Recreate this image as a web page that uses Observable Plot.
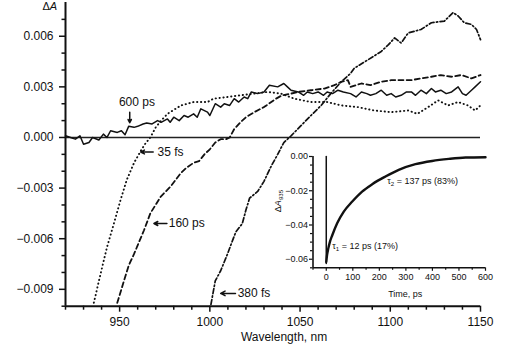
<!DOCTYPE html>
<html><head><meta charset="utf-8">
<script src="https://cdn.jsdelivr.net/npm/d3@7"></script>
<script src="https://cdn.jsdelivr.net/npm/@observablehq/plot@0.6"></script>
<style>
body{margin:0;background:#fff;}
#wrap{position:relative;width:517px;height:345px;overflow:hidden;background:#fff;}
#inset{position:absolute;left:260px;top:140px;}
</style></head><body><div id="wrap"><div id="main"></div><div id="inset"></div></div>
<script>
// ---------- main chart data ----------
const xDomain = [920, 1150];
const yDomain = [-0.010, 0.008];
const xTicks = [950, 1000, 1050, 1100, 1150];
const xMinorTicks = [920, 930, 940, 960, 970, 980, 990, 1010, 1020, 1030, 1040, 1060, 1070, 1080, 1090, 1110, 1120, 1130, 1140];
const yTicks = [-0.009, -0.006, -0.003, 0, 0.003, 0.006];
const yMinorTicks = [-0.010, -0.008, -0.007, -0.005, -0.004, -0.002, -0.001, 0.001, 0.002, 0.004, 0.005, 0.007];

// 600 ps (solid)
const w600 = [920, 922.8, 925.5, 928, 930, 933, 935, 938.5, 941, 943, 945, 948.7, 951, 953, 955, 958, 960, 963, 965, 968, 971, 973, 976.5, 978, 980, 983, 985.7, 988, 991, 993, 995, 998.7, 1000, 1003, 1006, 1008, 1011, 1013.5, 1016, 1019, 1021, 1023, 1026.5, 1030, 1033, 1037.6, 1041, 1043, 1045, 1049, 1052, 1054, 1057, 1060, 1063, 1065, 1068, 1071, 1074, 1078, 1081, 1084, 1087, 1089, 1092, 1095, 1098, 1100.5, 1103, 1106, 1109, 1111.7, 1114, 1117, 1120, 1122.8, 1125, 1128, 1131, 1134, 1137.6, 1140, 1142, 1145, 1147, 1150];
const a600 = [0.0001, 0.0, -0.0001, 0.0001, -0.0004, -0.0003, 0.0, -0.00015, 0.0002, 0.0, 0.0004, 0.0003, 0.0004, 0.00016, 0.00066, 0.0006, 0.00066, 0.0008, 0.00086, 0.0008, 0.001, 0.0009, 0.0011, 0.0009, 0.0012, 0.001, 0.0013, 0.0012, 0.0014, 0.0012, 0.0017, 0.0015, 0.0013, 0.002, 0.0018, 0.002, 0.0019, 0.0023, 0.0021, 0.0024, 0.0023, 0.0027, 0.0026, 0.0027, 0.0031, 0.003, 0.0032, 0.003, 0.0028, 0.0027, 0.0025, 0.0027, 0.0026, 0.0027, 0.0025, 0.0027, 0.0026, 0.0028, 0.0027, 0.0026, 0.0024, 0.0027, 0.0026, 0.0025, 0.0026, 0.0028, 0.0025, 0.0026, 0.0024, 0.0025, 0.0027, 0.0027, 0.0025, 0.0028, 0.0026, 0.0029, 0.0027, 0.0028, 0.0026, 0.0027, 0.0030, 0.0026, 0.0025, 0.0028, 0.003, 0.0033];

// 35 fs (dotted)
const w35 = [935.7, 939.4, 943, 946.8, 950.5, 954, 958, 961.7, 964, 967, 970, 973, 976.5, 984, 991, 998.7, 1002, 1010, 1017, 1024.6, 1032, 1039.4, 1046.8, 1056, 1065, 1072.8, 1082, 1091, 1100.5, 1110, 1115, 1121, 1126.5, 1132, 1137.6, 1143, 1147, 1150];
const a35 = [-0.0098, -0.0081, -0.0065, -0.0051, -0.0037, -0.0025, -0.0015, -0.0008, -0.0004, 0.0, 0.0006, 0.001, 0.0014, 0.0019, 0.0021, 0.0021, 0.0023, 0.0024, 0.0025, 0.0026, 0.0027, 0.0026, 0.0023, 0.0021, 0.0021, 0.0019, 0.0018, 0.0016, 0.0015, 0.0016, 0.0014, 0.0018, 0.0022, 0.0019, 0.0021, 0.0019, 0.0016, 0.0019];

// 160 ps (dashed)
const w160 = [948.7, 952.4, 955, 958, 963.5, 967, 972.8, 978.3, 984, 987, 991, 994, 997, 1000, 1003, 1006, 1009, 1011, 1013.5, 1017, 1020, 1024.6, 1030, 1036.7, 1040, 1045, 1049, 1056, 1063.5, 1069, 1072.8, 1076.5, 1078, 1084, 1089, 1095, 1100.5, 1106, 1111.7, 1117, 1122.8, 1128, 1134, 1139.4, 1145, 1150];
const a160 = [-0.0098, -0.0085, -0.0076, -0.0069, -0.0055, -0.0045, -0.0035, -0.0029, -0.0021, -0.0018, -0.0015, -0.0014, -0.001, -0.0007, -0.0003, -0.0001, -0.0001, 0.0, 0.0005, 0.0009, 0.0012, 0.0015, 0.0018, 0.0023, 0.0025, 0.0026, 0.0027, 0.0028, 0.0029, 0.0031, 0.0033, 0.0034, 0.0030, 0.0032, 0.0031, 0.0033, 0.0034, 0.0034, 0.0034, 0.0035, 0.0036, 0.0037, 0.0036, 0.0037, 0.0035, 0.0037];

// 380 fs (dash-dot)
const w380 = [1000.6, 1003, 1006, 1009.8, 1012.6, 1014.4, 1018, 1020, 1022, 1026.5, 1030, 1034, 1037.6, 1041, 1045, 1048.7, 1050.5, 1056, 1061.7, 1067, 1072.8, 1078, 1080, 1087.6, 1095, 1099, 1102.4, 1106, 1110, 1117, 1122.8, 1130, 1134.8, 1137.6, 1141, 1145, 1147.8, 1150];
const a380 = [-0.0099, -0.0085, -0.0079, -0.0069, -0.0061, -0.0056, -0.0051, -0.0043, -0.0036, -0.0032, -0.0026, -0.0017, -0.001, -0.0003, 0.0001, 0.0005, 0.0007, 0.0013, 0.0019, 0.0026, 0.0033, 0.0038, 0.0041, 0.0046, 0.0051, 0.0055, 0.0059, 0.0056, 0.0062, 0.0064, 0.0068, 0.0069, 0.0074, 0.0072, 0.0068, 0.0067, 0.0064, 0.0058];

// annotations (data coordinates; text starts at the given x)
const annLabels = ["600 ps", "35 fs", "160 ps", "380 fs"];
const annLabelX = [949.6, 971, 977.2, 1015.4];
const annLabelY = [0.00208, -0.00086, -0.0051, -0.00924];
const arrowX1 = [955.6, 968.6, 976.2, 1014.2];
const arrowY1 = [0.00150, -0.00086, -0.0051, -0.00924];
const arrowX2 = [955.6, 961.7, 969.0, 1006.0];
const arrowY2 = [0.00088, -0.00086, -0.0051, -0.00924];

// ---------- inset data ----------
const tDomain = [-50, 600];
const kDomain = [-0.065, 0];
const tTicks = [0, 100, 200, 300, 400, 500, 600];
const tMinorTicks = [-50, 50, 150, 250, 350, 450, 550];
const kTicks = [0, -0.02, -0.04, -0.06];
const kMinorTicks = [-0.005, -0.01, -0.015, -0.025, -0.03, -0.035, -0.045, -0.05, -0.055, -0.065];
const tRise = [0, 0];
const kRise = [-0.0625, 0];
const tDecay = [0, 3, 7.5, 14, 22.6, 41, 66, 98, 135, 173, 223, 273, 336, 399, 462, 525, 600];
const kDecay = [-0.0616, -0.0575, -0.0538, -0.0497, -0.046, -0.039, -0.0322, -0.0263, -0.0205, -0.0162, -0.0117, -0.0078, -0.0045, -0.0026, -0.0014, -0.0006, -0.0004];
const tauLabels = ["τ1 = 12 ps (17%)", "τ2 = 137 ps (83%)"];
const tauT = [22.6, 230];
const tauK = [-0.0526, -0.0146];

// ---------- build ----------
const FONT = '"Liberation Sans", Arial, Helvetica, sans-serif';
const zip = (xs, ys) => xs.map((x, i) => ({x, y: ys[i]}));
const ann = annLabels.map((t, i) => ({t, x: annLabelX[i], y: annLabelY[i],
  x1: arrowX1[i], y1: arrowY1[i], x2: arrowX2[i], y2: arrowY2[i]}));

const main = Plot.plot({
  width: 517, height: 345,
  marginLeft: 65, marginRight: 37, marginTop: 2, marginBottom: 39.3,
  style: {fontFamily: FONT, fontSize: "12px", background: "white", color: "#111", overflow: "visible"},
  x: {domain: xDomain},
  y: {domain: yDomain},
  marks: [
    Plot.ruleY([0], {strokeWidth: 1.6, stroke: "#222"}),
    Plot.axisX({ticks: xMinorTicks, tickSize: 4, tickFormat: () => "", strokeWidth: 1.5, label: null}),
    Plot.axisX({ticks: xTicks, tickSize: 6, tickPadding: 5, tickFormat: d => String(d), strokeWidth: 1.5, label: null}),
    Plot.axisY({ticks: yMinorTicks, tickSize: 3.5, tickFormat: () => "", strokeWidth: 1.5, label: null}),
    Plot.axisY({ticks: yTicks, tickSize: 6, tickPadding: 6, tickFormat: ".3f", strokeWidth: 1.5, label: null}),
    Plot.ruleX([xDomain[0]], {strokeWidth: 2, stroke: "#111"}),
    Plot.ruleY([yDomain[0]], {strokeWidth: 2, stroke: "#111"}),
    Plot.line(zip(w35, a35), {x: "x", y: "y", stroke: "#111", strokeWidth: 1.9, strokeDasharray: "0.3,3.6", strokeLinecap: "round"}),
    Plot.line(zip(w160, a160), {x: "x", y: "y", stroke: "#111", strokeWidth: 1.8, strokeDasharray: "5,3.2"}),
    Plot.line(zip(w380, a380), {x: "x", y: "y", stroke: "#111", strokeWidth: 1.7, strokeDasharray: "5,2.4,1.3,2.4"}),
    Plot.line(zip(w600, a600), {x: "x", y: "y", stroke: "#111", strokeWidth: 1.5}),
    Plot.arrow(ann, {x1: "x1", y1: "y1", x2: "x2", y2: "y2", stroke: "#111", strokeWidth: 1.5, headLength: 5, headAngle: 55}),
    Plot.text(ann, {x: "x", y: "y", text: "t", textAnchor: "start", lineAnchor: "middle", fill: "#111"}),
    Plot.text(["ΔA"], {frameAnchor: "top-left", dx: -23, dy: 4, lineAnchor: "middle", fontSize: 11, fill: "#111"}),
    Plot.text(["Wavelength, nm"], {frameAnchor: "bottom", dx: 11, dy: 31, lineAnchor: "middle", fill: "#111"})
  ]
});
document.getElementById("main").appendChild(main);

const inset = Plot.plot({
  width: 250, height: 165,
  marginLeft: 52.5, marginRight: 25, marginTop: 16, marginBottom: 37.7,
  style: {fontFamily: FONT, fontSize: "9px", background: "transparent", color: "#111", overflow: "visible"},
  x: {domain: tDomain},
  y: {domain: kDomain},
  marks: [
    Plot.axisX({ticks: tMinorTicks, tickSize: 2.5, tickFormat: () => "", strokeWidth: 1.2, label: null}),
    Plot.axisX({ticks: tTicks, tickSize: 3.5, tickPadding: 2, tickFormat: d => String(d), strokeWidth: 1.2, label: null}),
    Plot.axisY({ticks: kMinorTicks, tickSize: 2.5, tickFormat: () => "", strokeWidth: 1.2, label: null}),
    Plot.axisY({ticks: kTicks, tickSize: 3.5, tickPadding: 1.5, tickFormat: ".2f", strokeWidth: 1.2, label: null}),
    Plot.ruleX([tDomain[0]], {strokeWidth: 1.6, stroke: "#111"}),
    Plot.ruleY([kDomain[0]], {strokeWidth: 1.6, stroke: "#111"}),
    Plot.line(zip(tRise, kRise), {x: "x", y: "y", stroke: "#111", strokeWidth: 1.5}),
    Plot.line(zip(tDecay, kDecay), {x: "x", y: "y", stroke: "#111", strokeWidth: 2.4, curve: "monotone-x"}),
    Plot.text(tauLabels.map((t, i) => ({t, x: tauT[i], y: tauK[i]})), {x: "x", y: "y", text: "t", textAnchor: "start", lineAnchor: "middle", fill: "#111"}),
    Plot.text(["Time, ps"], {frameAnchor: "bottom", dx: 6, dy: 26, lineAnchor: "middle", fill: "#111"}),
    Plot.text(["ΔA935"], {frameAnchor: "left", dx: -35, rotate: -90, lineAnchor: "middle", fill: "#111"})
  ]
});
document.getElementById("inset").appendChild(inset);

// rich text: italic A, subscripts
const NS = "http://www.w3.org/2000/svg";
function rich(el, parts) {
  while (el.firstChild) el.removeChild(el.firstChild);
  let shifted = false;
  for (const p of parts) {
    const ts = document.createElementNS(NS, "tspan");
    ts.textContent = p.t;
    if (p.italic) ts.setAttribute("font-style", "italic");
    if (p.sub) { ts.setAttribute("font-size", "0.68em"); ts.setAttribute("dy", "0.3em"); shifted = true; }
    else if (shifted) { ts.setAttribute("dy", "-0.2em"); shifted = false; }
    el.appendChild(ts);
  }
}
for (const el of document.querySelectorAll("svg text")) {
  const s = el.textContent;
  if (s === "ΔA") rich(el, [{t: "Δ"}, {t: "A", italic: true}]);
  else if (s === "ΔA935") rich(el, [{t: "Δ"}, {t: "A", italic: true}, {t: "935", sub: true}]);
  else {
    const m = /^τ(\d)(.*)$/.exec(s);
    if (m) rich(el, [{t: "τ"}, {t: m[1], sub: true}, {t: m[2]}]);
  }
}
</script></body></html>
